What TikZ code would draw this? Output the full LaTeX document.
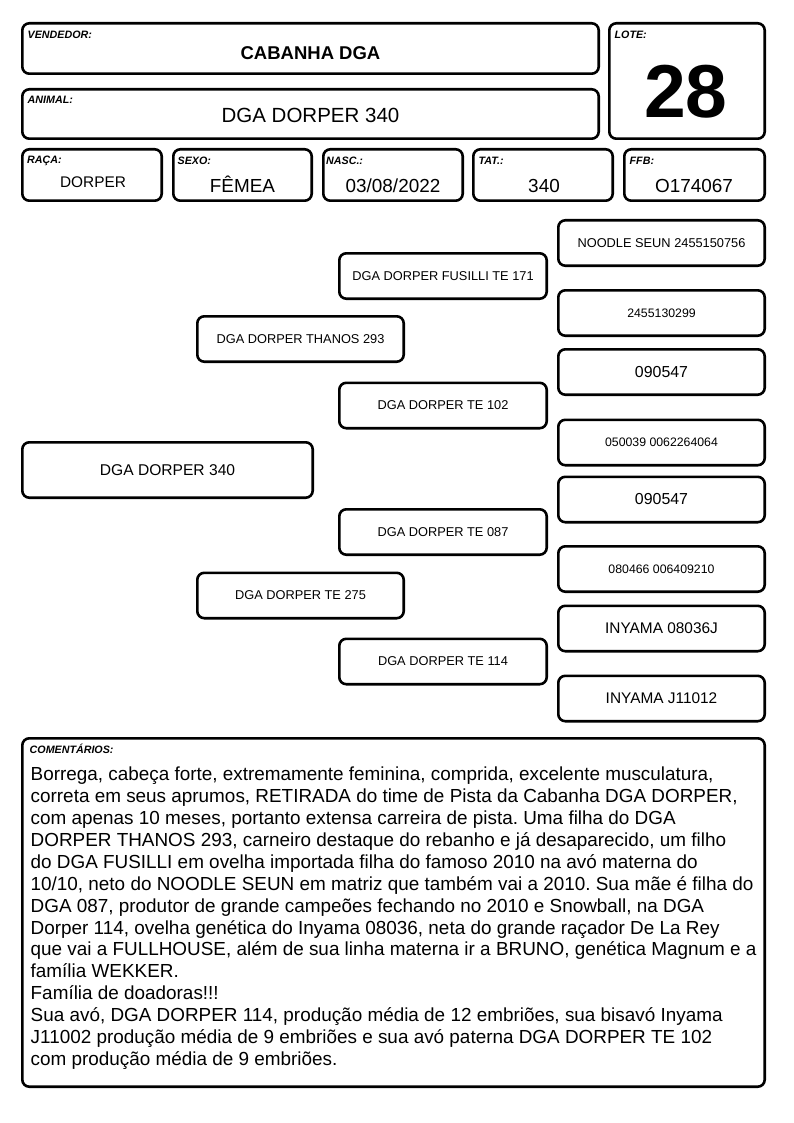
\documentclass[tikz,border=0pt]{standalone}
\usepackage{fontspec}
\setmainfont{Liberation Sans}
\newcommand{\fs}[1]{\fontsize{#1}{#1}\selectfont}
\frenchspacing
\begin{document}
\begin{tikzpicture}[x=1pt,y=-1pt,
  box/.style={draw, line width=2.6pt, rounded corners=7pt, inner sep=0pt},
  lbl/.style={anchor=base west, inner sep=0pt, font=\fontsize{10.7}{12}\selectfont\bfseries\itshape},
  val/.style={anchor=base, inner sep=0pt},
  gp/.style={box, minimum width=207.4pt, minimum height=45.4pt},
  pa/.style={box, minimum width=206.4pt, minimum height=45.4pt},
  gg/.style={box, minimum width=206.4pt, minimum height=45.4pt},
  small/.style={font=\fs{12.8}},
  tiny/.style={font=\fs{12.3}},
  mid/.style={font=\fs{15.6}}]
\useasboundingbox (0,0) rectangle (794,1123);

% header boxes
\node[box, minimum width=576.4pt, minimum height=50.4pt] (vend) at (310.5,48.5) {};
\node[box, minimum width=576.4pt, minimum height=49.4pt] (anim) at (310.5,114) {};
\node[box, minimum width=155.4pt, minimum height=115.4pt] (lote) at (687,81) {};
\node[box, minimum width=139.4pt, minimum height=51.4pt] (raca) at (92,175) {};
\node[box, minimum width=138.4pt, minimum height=51.4pt] (sexo) at (242.5,175) {};
\node[box, minimum width=139.4pt, minimum height=51.4pt] (nasc) at (393,175) {};
\node[box, minimum width=139.4pt, minimum height=51.4pt] (tat) at (543,175) {};
\node[box, minimum width=140.4pt, minimum height=51.4pt] (ffb) at (694.5,175) {};

% header labels
\node[lbl] (lvend) at (27.5,39) {VENDEDOR:};
\node[lbl] (lanim) at (27.5,103.3) {ANIMAL:};
\node[lbl] (llote) at (614.5,39) {LOTE:};
\node[lbl] (lraca) at (27,163.5) {RAÇA:};
\node[lbl] (lsexo) at (177.5,164.8) {SEXO:};
\node[lbl] (lnasc) at (326,164.8) {NASC.:};
\node[lbl] (ltat) at (478.5,164.8) {TAT.:};
\node[lbl] (lffb) at (629.5,164.8) {FFB:};

% header values
\node[val, font=\fs{18.5}\bfseries] (vvend) at (310.5,60) {CABANHA DGA};
\node[val, font=\fs{20.5}] (vanim) at (310.5,123) {DGA DORPER 340};
\node[val, font=\fs{75}\bfseries] (vlote) at (686,118) {28};
\node[val, font=\fs{15.4}] (vraca) at (93,188) {DORPER};
\node[val, font=\fs{18.9}] (vsexo) at (242.5,193) {FÊMEA};
\node[val, font=\fs{18.9}] (vnasc) at (393,192.7) {03/08/2022};
\node[val, font=\fs{18.9}] (vtat) at (544,192.5) {340};
\node[val, font=\fs{18.9}] (vffb) at (694,192.5) {O174067};

% pedigree
\node[box, minimum width=290.4pt, minimum height=55.4pt, mid] (subj) at (167.5,470) {DGA DORPER 340};
\node[pa, small] (p1) at (300.5,339) {DGA DORPER THANOS 293};
\node[pa, small] (p2) at (300.5,595.5) {DGA DORPER TE 275};
\node[gp, small] (g1) at (443,276) {DGA DORPER FUSILLI TE 171};
\node[gp, small] (g2) at (443,405.5) {DGA DORPER TE 102};
\node[gp, small] (g3) at (443,532) {DGA DORPER TE 087};
\node[gp, small] (g4) at (443,661.5) {DGA DORPER TE 114};
\node[gg, small] (gg1) at (661.5,243) {NOODLE SEUN 2455150756};
\node[gg, tiny] (gg2) at (661.5,313) {2455130299};
\node[gg, font=\fs{15.9}] (gg3) at (661.5,372) {090547};
\node[gg, tiny] (gg4) at (661.5,442.5) {050039 0062264064};
\node[gg, font=\fs{15.9}] (gg5) at (661.5,499.5) {090547};
\node[gg, tiny] (gg6) at (661.5,569) {080466 006409210};
\node[gg, font=\fs{15.4}] (gg7) at (661.5,628.5) {INYAMA 08036J};
\node[gg, font=\fs{15.4}] (gg8) at (661.5,698.5) {INYAMA J11012};

% comments
\node[box, minimum width=742.4pt, minimum height=348.4pt] (com) at (393.5,912.5) {};
\node[lbl] (lcom) at (29.5,753.3) {COMENTÁRIOS:};
\node[anchor=north west, inner sep=0pt, align=left, font=\fontsize{18.9}{21.9}\selectfont] (ctext) at (30.5,766.8) {%
Borrega, cabeça forte, extremamente feminina, comprida, excelente musculatura,\\
correta em seus aprumos, RETIRADA do time de Pista da Cabanha DGA DORPER,\\
com apenas 10 meses, portanto extensa carreira de pista. Uma filha do DGA\\
DORPER THANOS 293, carneiro destaque do rebanho e já desaparecido, um filho\\
do DGA FUSILLI em ovelha importada filha do famoso 2010 na avó materna do\\
10/10, neto do NOODLE SEUN em matriz que também vai a 2010. Sua mãe é filha do\\
DGA 087, produtor de grande campeões fechando no 2010 e Snowball, na DGA\\
Dorper 114, ovelha genética do Inyama 08036, neta do grande raçador De La Rey\\
que vai a FULLHOUSE, além de sua linha materna ir a BRUNO, genética Magnum e a\\
família WEKKER.\\
Família de doadoras!!!\\
Sua avó, DGA DORPER 114, produção média de 12 embriões, sua bisavó Inyama\\
J11002 produção média de 9 embriões e sua avó paterna DGA DORPER TE 102\\
com produção média de 9 embriões.};
\end{tikzpicture}
\end{document}
